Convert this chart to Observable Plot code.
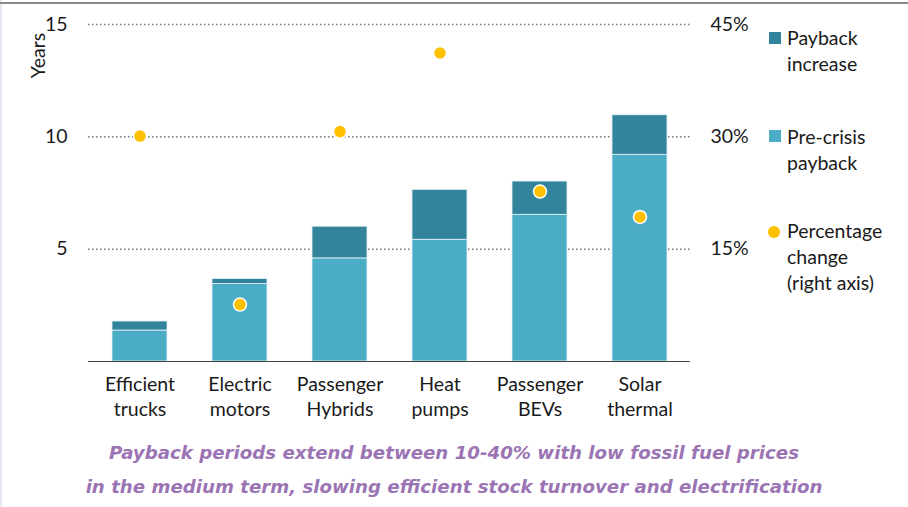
<!DOCTYPE html>
<html>
<head>
<meta charset="utf-8">
<script src="https://cdn.jsdelivr.net/npm/d3@7"></script>
<script src="https://cdn.jsdelivr.net/npm/@observablehq/plot@0.6"></script>
<style>
  html, body { margin: 0; padding: 0; background: #fff; }
  #wrap { position: relative; width: 908px; height: 507px; overflow: hidden; font-family: Lato, "Open Sans", sans-serif; color: #1a1a1a; }
  #topline { position: absolute; left: 0; top: 2px; width: 908px; height: 2px; background: #8a8a8a; }
  #leftstrip { position: absolute; left: 0; top: 0; width: 2px; height: 507px; background: #e8e7f1; }
  #chart { position: absolute; left: 0; top: 0; }
  .leg { position: absolute; left: 787px; font-size: 19.5px; line-height: 26px; color: #1a1a1a; }
  .sw { position: absolute; width: 12px; height: 12px; }
  #caption { position: absolute; left: 0; top: 436px; width: 908px; text-align: center; font-family: "DejaVu Sans", sans-serif; font-style: oblique; font-weight: bold; font-size: 18.2px; line-height: 34px; color: #9b74b4; }
</style>
</head>
<body>
<div id="wrap">
  <div id="leftstrip"></div>
  <div id="topline"></div>
  <div id="chart"></div>
  <div class="sw" style="left:769px; top:32px; background:#31849B;"></div>
  <div class="leg" style="top:25px;">Payback<br>increase</div>
  <div class="sw" style="left:769px; top:130px; background:#4BACC6;"></div>
  <div class="leg" style="top:124px;">Pre-crisis<br>payback</div>
  <div class="sw" style="left:768px; top:226px; width:12px; height:12px; border-radius:50%; background:#FFC000;"></div>
  <div class="leg" style="top:218px;">Percentage<br>change<br>(right axis)</div>
  <div id="caption">Payback periods extend between 10-40% with low fossil fuel prices<br>in the medium term, slowing efficient stock turnover and electrification</div>
</div>
<script>
const categories = ["Efficient trucks", "Electric motors", "Passenger Hybrids", "Heat pumps", "Passenger BEVs", "Solar thermal"];
const categoryLabels = ["Efficient\ntrucks", "Electric\nmotors", "Passenger\nHybrids", "Heat\npumps", "Passenger\nBEVs", "Solar\nthermal"];
const preCrisisPayback = [1.38, 3.45, 4.59, 5.42, 6.53, 9.20];
const paybackIncrease = [0.40, 0.22, 1.41, 2.22, 1.48, 1.76];
const percentageChange = [30.1, 7.6, 30.7, 41.2, 22.7, 19.3];
const seriesNames = ["Pre-crisis payback", "Payback increase"];
const seriesColors = ["#4BACC6", "#31849B"];
const leftTicks = [5, 10, 15];

const barRows = [];
categories.forEach((c, i) => barRows.push({cat: c, series: seriesNames[0], value: preCrisisPayback[i]}));
categories.forEach((c, i) => barRows.push({cat: c, series: seriesNames[1], value: paybackIncrease[i]}));
const pointRows = categories.map((c, i) => ({cat: c, pct: percentageChange[i]}));
const labelRows = categories.map((c, i) => ({cat: c, label: categoryLabels[i]}));

const FS = 19.5;
const chart = Plot.plot({
  width: 908,
  height: 421,
  marginLeft: 88,
  marginRight: 218,
  marginTop: 24,
  marginBottom: 60,
  style: {fontFamily: "Lato, 'Open Sans', sans-serif", fontSize: FS + "px", color: "#1a1a1a", background: "transparent"},
  x: {domain: categories, paddingInner: 0.45, paddingOuter: 0.225, axis: null},
  y: {domain: [0, 15], axis: null},
  color: {domain: seriesNames, range: seriesColors},
  marks: [
    Plot.gridY(leftTicks, {stroke: "#7a7a7a", strokeOpacity: 1, strokeWidth: 1.5, strokeDasharray: "1.5,2.5"}),
    Plot.axisY(leftTicks, {anchor: "left", tickSize: 0, tickPadding: 21, label: null, fontSize: FS}),
    Plot.axisY(leftTicks, {anchor: "right", tickSize: 0, tickPadding: 20, label: null, fontSize: FS, tickFormat: d => (d * 3) + "%", textAnchor: "start"}),
    Plot.barY(barRows, Plot.stackY({x: "cat", y: "value", fill: "series", stroke: "#e6f3f7", strokeWidth: 0.8})),
    Plot.ruleY([0], {stroke: "#444", strokeWidth: 1.2}),
    Plot.dot(pointRows, {x: "cat", y: d => d.pct / 3, r: 6.5, fill: "#FFC000", stroke: "white", strokeWidth: 1.5}),
    Plot.text(labelRows, {x: "cat", text: "label", frameAnchor: "bottom", lineAnchor: "top", dy: 12, lineHeight: 1.28, fontSize: FS, fill: "#1a1a1a"}),
    Plot.text(["Years"], {frameAnchor: "top-left", text: d => d, rotate: -90, dx: -57, dy: 31, textAnchor: "middle", fontSize: FS, fill: "#1a1a1a"})
  ]
});
document.getElementById("chart").appendChild(chart);
</script>
</body>
</html>
